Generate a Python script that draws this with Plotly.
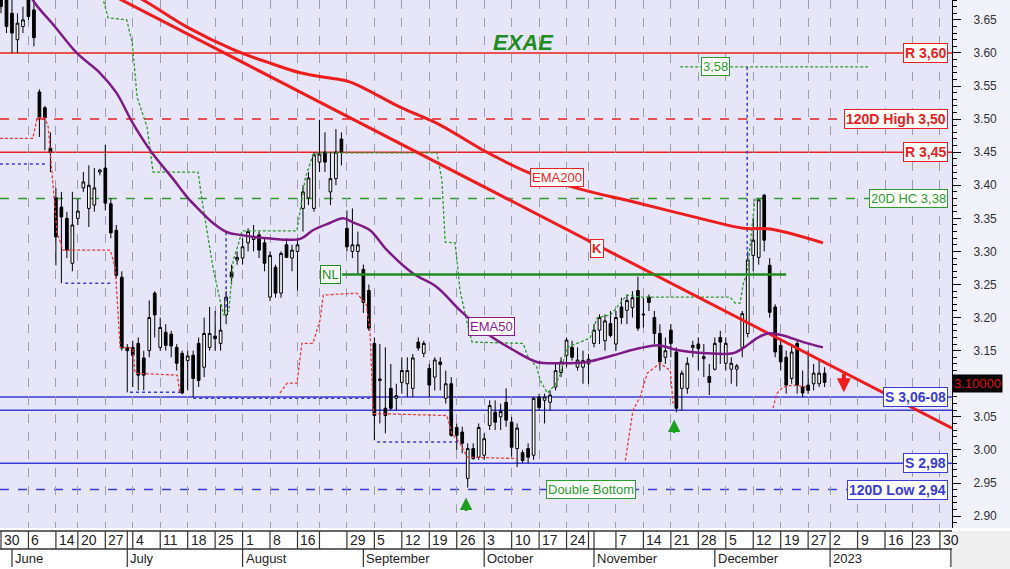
import pandas as pd
import plotly.graph_objects as go

# ---------------- calendar (trading days) ----------------
holidays = ['2022-06-13', '2022-08-15', '2022-10-28', '2022-12-26']
days = [d.strftime('%Y-%m-%d') for d in pd.bdate_range('2022-05-30', '2023-02-01')
        if d.strftime('%Y-%m-%d') not in holidays]
pos = {d: i for i, d in enumerate(days)}

# ---------------- OHLC data (May 30 - Dec 30, 2022) ----------------
opens = [3.69, 3.68, 3.66, 3.62, 3.64, 3.70, 3.665, 3.541, 3.517, 3.456,
         3.381, 3.367, 3.350, 3.282, 3.350, 3.396, 3.365, 3.370, 3.420, 3.426,
         3.372, 3.332, 3.261, 3.155, 3.155, 3.161, 3.139, 3.150, 3.237, 3.155,
         3.178, 3.175, 3.155, 3.146, 3.135, 3.143, 3.161, 3.125, 3.155, 3.172,
         3.161, 3.204, 3.269, 3.287, 3.290, 3.313, 3.318, 3.325, 3.313, 3.231,
         3.276, 3.237, 3.310, 3.290, 3.300, 3.365, 3.381, 3.365, 3.435, 3.450,
         3.390, 3.410, 3.470, 3.335, 3.300, 3.300, 3.273, 3.241, 3.161, 3.105,
         3.063, 3.093, 3.078, 3.102, 3.100, 3.093, 3.163, 3.146, 3.123, 3.110,
         3.133, 3.078, 3.100, 3.034, 3.027, 2.957, 3.002, 2.989, 2.992, 3.037,
         3.057, 3.050, 3.072, 3.042, 3.002, 2.996, 3.002, 2.992, 3.080, 3.075,
         3.072, 3.095, 3.117, 3.143, 3.155, 3.125, 3.125, 3.130, 3.161, 3.181,
         3.165, 3.191, 3.160, 3.216, 3.211, 3.215, 3.241, 3.204, 3.231, 3.200,
         3.176, 3.140, 3.181, 3.148, 3.093, 3.093, 3.155, 3.160, 3.138, 3.111,
         3.122, 3.170, 3.131, 3.122, 3.122, 3.155, 3.176, 3.294, 3.291, 3.385,
         3.279, 3.216, 3.158, 3.140, 3.108, 3.161, 3.095, 3.098, 3.100, 3.100,
         3.116]
highs = [3.71, 3.70, 3.68, 3.66, 3.67, 3.72, 3.68, 3.545, 3.52, 3.48,
         3.396, 3.39, 3.36, 3.39, 3.38, 3.42, 3.43, 3.426, 3.425, 3.461,
         3.38, 3.34, 3.27, 3.16, 3.165, 3.17, 3.15, 3.226, 3.24, 3.20,
         3.19, 3.18, 3.16, 3.15, 3.15, 3.15, 3.17, 3.20, 3.216, 3.21,
         3.22, 3.24, 3.28, 3.30, 3.32, 3.335, 3.34, 3.33, 3.32, 3.30,
         3.28, 3.30, 3.32, 3.31, 3.32, 3.40, 3.42, 3.45, 3.499, 3.48,
         3.45, 3.485, 3.48, 3.362, 3.365, 3.33, 3.28, 3.25, 3.17, 3.16,
         3.155, 3.13, 3.10, 3.14, 3.14, 3.145, 3.17, 3.165, 3.13, 3.14,
         3.14, 3.12, 3.11, 3.04, 3.035, 3.01, 3.01, 3.04, 3.025, 3.075,
         3.075, 3.07, 3.093, 3.05, 3.04, 3.00, 3.01, 3.08, 3.085, 3.085,
         3.09, 3.13, 3.14, 3.17, 3.165, 3.155, 3.15, 3.145, 3.19, 3.205,
         3.205, 3.21, 3.21, 3.23, 3.235, 3.24, 3.262, 3.23, 3.235, 3.21,
         3.19, 3.17, 3.19, 3.155, 3.12, 3.14, 3.165, 3.17, 3.16, 3.13,
         3.17, 3.18, 3.17, 3.14, 3.13, 3.21, 3.30, 3.35, 3.38, 3.387,
         3.29, 3.22, 3.165, 3.15, 3.16, 3.165, 3.12, 3.15, 3.13, 3.135,
         3.125]
lows = [3.66, 3.63, 3.60, 3.60, 3.63, 3.65, 3.61, 3.473, 3.453, 3.42,
        3.279, 3.252, 3.29, 3.27, 3.34, 3.39, 3.337, 3.36, 3.415, 3.362,
        3.32, 3.26, 3.15, 3.087, 3.095, 3.09, 3.09, 3.14, 3.17, 3.15,
        3.15, 3.14, 3.12, 3.084, 3.09, 3.08, 3.095, 3.11, 3.15, 3.15,
        3.15, 3.19, 3.25, 3.28, 3.28, 3.30, 3.30, 3.29, 3.27, 3.225,
        3.23, 3.23, 3.29, 3.27, 3.241, 3.33, 3.37, 3.36, 3.42, 3.42,
        3.37, 3.40, 3.43, 3.30, 3.29, 3.265, 3.207, 3.18, 3.015, 3.04,
        3.025, 3.06, 3.06, 3.085, 3.08, 3.08, 3.15, 3.14, 3.08, 3.09,
        3.09, 3.07, 3.02, 3.00, 2.995, 2.943, 2.985, 2.985, 2.985, 3.03,
        3.03, 3.03, 3.035, 2.99, 2.974, 2.98, 2.98, 2.985, 3.06, 3.04,
        3.06, 3.09, 3.11, 3.125, 3.135, 3.12, 3.10, 3.10, 3.155, 3.16,
        3.15, 3.17, 3.15, 3.19, 3.19, 3.20, 3.18, 3.185, 3.21, 3.16,
        3.12, 3.13, 3.14, 3.057, 3.06, 3.085, 3.14, 3.12, 3.11, 3.083,
        3.12, 3.13, 3.12, 3.10, 3.096, 3.14, 3.17, 3.27, 3.28, 3.30,
        3.20, 3.14, 3.12, 3.085, 3.10, 3.085, 3.08, 3.085, 3.09, 3.095,
        3.095]
closes = [3.67, 3.64, 3.63, 3.645, 3.65, 3.655, 3.623, 3.502, 3.502, 3.45,
          3.322, 3.352, 3.302, 3.340, 3.361, 3.405, 3.400, 3.396, 3.423, 3.373,
          3.328, 3.264, 3.154, 3.150, 3.143, 3.113, 3.113, 3.200, 3.204, 3.185,
          3.158, 3.157, 3.131, 3.086, 3.142, 3.108, 3.105, 3.176, 3.176, 3.168,
          3.181, 3.231, 3.261, 3.291, 3.307, 3.330, 3.322, 3.302, 3.282, 3.294,
          3.237, 3.297, 3.291, 3.302, 3.310, 3.390, 3.411, 3.446, 3.447, 3.435,
          3.410, 3.450, 3.450, 3.307, 3.310, 3.310, 3.223, 3.184, 3.052, 3.107,
          3.052, 3.063, 3.082, 3.120, 3.120, 3.139, 3.154, 3.161, 3.098, 3.136,
          3.129, 3.100, 3.022, 3.022, 3.010, 3.002, 2.987, 3.034, 3.017, 3.067,
          3.042, 3.058, 3.045, 3.004, 3.033, 2.984, 2.989, 3.078, 3.064, 3.080,
          3.083, 3.120, 3.133, 3.166, 3.140, 3.136, 3.135, 3.137, 3.181, 3.200,
          3.195, 3.173, 3.200, 3.200, 3.226, 3.230, 3.184, 3.205, 3.223, 3.176,
          3.133, 3.150, 3.161, 3.063, 3.116, 3.131, 3.158, 3.153, 3.141, 3.102,
          3.161, 3.163, 3.161, 3.131, 3.127, 3.206, 3.287, 3.317, 3.378, 3.317,
          3.208, 3.148, 3.133, 3.098, 3.148, 3.098, 3.086, 3.090, 3.116, 3.116,
          3.102]
candle_x = list(range(len(opens)))

# ---------------- indicators (trading-day index, price) ----------------
ema50_x = [4.9, 5.8, 9.8, 13.8, 18.0, 21.0, 24.0, 27.5, 31.3, 33.9, 36.2, 38.6, 41.2, 43.5,
           48.5, 54.5, 56.8, 59.9, 62.3, 64.1, 67.2, 70.3, 75.0, 79.4, 83.6, 88.5, 93.3,
           97.6, 101.8, 106.7, 111.5, 116.4, 120.0, 123.1, 128.6, 133.3, 135.2, 137.7,
           139.7, 142.4, 146.1, 149.7]
ema50_y = [3.70, 3.68, 3.64, 3.60, 3.57, 3.54, 3.494, 3.449, 3.41, 3.382, 3.362, 3.343, 3.329,
           3.325, 3.320, 3.319, 3.332, 3.343, 3.350, 3.344, 3.332, 3.302, 3.267, 3.246, 3.211,
           3.176, 3.151, 3.133, 3.131, 3.133, 3.143, 3.154, 3.158, 3.151, 3.146, 3.146, 3.154,
           3.169, 3.176, 3.173, 3.163, 3.155]
ema200_x = [21.7, 25.9, 33.9, 42.3, 48.5, 54.5, 59.9, 63.6, 72.7, 80.0, 87.8, 96.4, 106.0,
            115.1, 127.3, 135.2, 140.1, 149.7]
ema200_y = [3.698, 3.680, 3.639, 3.605, 3.586, 3.570, 3.562, 3.556, 3.518, 3.491, 3.453,
            3.418, 3.393, 3.375, 3.350, 3.335, 3.334, 3.313]
trend_k_x = [18.0, 173.2]
trend_k_y = [3.697, 3.033]

red_stop_x = [-0.2, 5.8, 6.6, 8.0, 8.6, 8.9, 9.3, 9.5, 10.2, 11.3, 19.9, 20.8, 21.1, 21.7,
              24.0, 24.4, 32.1, 32.6, None,
              50.8, 52.1, 53.9, 54.8, 56.8, 58.1, 58.7, 64.8, 66.5, 67.2, 67.8, 81.2, 82.1,
              83.6, 84.9, 94.0, None,
              113.7, 115.1, 116.4, 117.7, 120.0, 121.9, 122.4, None,
              140.6, 141.3, 142.4, 144.3, 146.6]
red_stop_y = [3.471, 3.471, 3.502, 3.502, 3.488, 3.456, 3.418, 3.388, 3.328, 3.302, 3.302,
              3.276, 3.237, 3.155, 3.154, 3.116, 3.113, 3.086, None,
              3.086, 3.101, 3.101, 3.161, 3.161, 3.196, 3.234, 3.237, 3.22, 3.181, 3.055,
              3.052, 3.025, 3.010, 2.989, 2.987, None,
              2.984, 3.06, 3.08, 3.116, 3.131, 3.12, 3.07, None,
              3.063, 3.085, 3.095, 3.098, 3.095]
green_stop_x = [18.0, 19.5, 22.9, 23.9, 24.8, 26.6, 27.7, 35.9, 36.6, 38.6, 39.9, 40.6, 41.5,
                42.3, 43.2, 43.9, 53.9, 54.8, 55.4, 56.8, 58.1, 79.4, 80.3, 80.9, 82.7, 83.1,
                83.6, 84.9, 85.8, 95.1, 96.0, 97.6, 98.2, 99.5, 100.9, 101.8, 103.1, 107.3,
                108.6, 111.0, 114.0, 116.4, 132.8, 133.7, 134.6, 135.2, 135.9, 137.3, 138.5]
green_stop_y = [3.70, 3.653, 3.65, 3.615, 3.533, 3.488, 3.42, 3.42, 3.378, 3.276, 3.226, 3.204,
                3.21, 3.287, 3.31, 3.331, 3.331, 3.382, 3.41, 3.446, 3.449, 3.449, 3.408, 3.314,
                3.313, 3.282, 3.241, 3.192, 3.163, 3.161, 3.14, 3.125, 3.105, 3.086, 3.098,
                3.113, 3.155, 3.169, 3.20, 3.204, 3.234, 3.231, 3.231, 3.222, 3.222, 3.252,
                3.267, 3.378, 3.38]
blue_dot_x = [-0.2, 8.0, None, 11.7, 20.4, None, 23.5, 32.6, None, 35.0, 67.2, None, 68.5, 83.6,
              None, 41.0, 41.0, None, 135.9, 135.9]
blue_dot_y = [3.432, 3.432, None, 3.252, 3.252, None, 3.087, 3.087, None, 3.078, 3.078, None,
              3.012, 3.012, None, 3.329, 3.21, None, 3.579, 3.287]

# horizontal levels
level_prices = [3.60, 3.50, 3.45, 3.38, 3.08, 3.06, 2.98, 2.94]
level_colors = ['#E8201E', '#E8201E', '#E8201E', '#2E9A2E', '#3A3AD6', '#3A3AD6', '#3A3AD6', '#3A3AD6']
level_dash = ['solid', 'dash', 'solid', 'dash', 'solid', 'solid', 'solid', 'dash']
level_labels = ['R 3,60', '120D High 3,50', 'R 3,45', '20D HC 3,38', 'S 3,06-08', None, 'S 2,98',
                '120D Low 2,94']
level_bold = [True, True, True, False, True, False, True, True]

neckline = 3.265
neck_x = [62.1, 143.0]
high358 = 3.579
high358_x = [123.7, 157.9]

# axis ticks
price_ticks = [2.90, 2.95, 3.00, 3.05, 3.15, 3.20, 3.25, 3.30, 3.35, 3.40, 3.45, 3.50, 3.55,
               3.60, 3.65]
week_ticks = ['2022-05-30', '2022-06-06', '2022-06-14', '2022-06-20', '2022-06-27', '2022-07-04',
              '2022-07-11', '2022-07-18', '2022-07-25', '2022-08-01', '2022-08-08', '2022-08-16',
              '2022-08-22', '2022-08-29', '2022-09-05', '2022-09-12', '2022-09-19', '2022-09-26',
              '2022-10-03', '2022-10-10', '2022-10-17', '2022-10-24', '2022-10-31', '2022-11-07',
              '2022-11-14', '2022-11-21', '2022-11-28', '2022-12-05', '2022-12-12', '2022-12-19',
              '2022-12-27', '2023-01-02', '2023-01-09', '2023-01-16', '2023-01-23', '2023-01-30']
week_labels = ['30', '6', '14', '20', '27', '4', '11', '18', '25', '1', '8', '16', '', '29', '5',
               '12', '19', '26', '3', '10', '17', '24', '', '7', '14', '21', '28', '5', '12', '19',
               '27', '2', '9', '16', '23', '30']
extra_date_seps = ['2022-07-01', '2022-11-01']
month_starts = ['2022-06-01', '2022-07-01', '2022-08-01', '2022-09-01', '2022-10-03', '2022-11-01',
                '2022-12-01', '2023-01-02', '2023-02-01']
month_labels = ['June', 'July', 'August', 'September', 'October', 'November', 'December', '2023', '']

last_price = 3.10

# ---------------- figure ----------------
W, H = 1010, 569
ML, MR, MT, MB = 0, 58, 0, 41
PH = H - MT - MB


def ypap(px):
    return (PH - px) / PH


FONT = 'Liberation Sans, Arial, sans-serif'
STOP_DASH = '3px,2px'
fig = go.Figure()

fig.add_trace(go.Scatter(x=red_stop_x, y=red_stop_y, mode='lines',
                         line=dict(color='#E83A3A', width=1.3, dash=STOP_DASH), hoverinfo='skip'))
fig.add_trace(go.Scatter(x=green_stop_x, y=green_stop_y, mode='lines',
                         line=dict(color='#2E9A2E', width=1.3, dash=STOP_DASH), hoverinfo='skip'))
fig.add_trace(go.Scatter(x=blue_dot_x, y=blue_dot_y, mode='lines',
                         line=dict(color='#3A3AD6', width=1.5, dash='dot'), hoverinfo='skip'))

fig.add_trace(go.Candlestick(
    x=candle_x, open=opens, high=highs, low=lows, close=closes,
    increasing=dict(line=dict(color='black', width=1), fillcolor='white'),
    decreasing=dict(line=dict(color='black', width=1), fillcolor='black'),
    whiskerwidth=0, hoverinfo='skip'))

fig.add_trace(go.Scatter(x=ema200_x, y=ema200_y, mode='lines', line_shape='spline',
                         line=dict(color='#EE1C1C', width=3), hoverinfo='skip'))
fig.add_trace(go.Scatter(x=trend_k_x, y=trend_k_y, mode='lines',
                         line=dict(color='#EE1C1C', width=3), hoverinfo='skip'))
fig.add_trace(go.Scatter(x=ema50_x, y=ema50_y, mode='lines', line_shape='spline',
                         line=dict(color='#7E1A86', width=2.5), hoverinfo='skip'))
fig.add_trace(go.Scatter(x=neck_x, y=[neckline, neckline], mode='lines',
                         line=dict(color='#1E8C1E', width=2.5), hoverinfo='skip'))
fig.add_trace(go.Scatter(x=high358_x, y=[high358, high358], mode='lines',
                         line=dict(color='#2E9A2E', width=1.3, dash=STOP_DASH), hoverinfo='skip'))

shapes = []
anns = []
for p, c, d, lab, b in zip(level_prices, level_colors, level_dash, level_labels, level_bold):
    shapes.append(dict(type='line', xref='paper', yref='y', x0=0, x1=1, y0=p, y1=p,
                       line=dict(color=c, width=1.5, dash=d), layer='below'))
    if lab:
        anns.append(dict(xref='paper', yref='y', x=0.996, y=p, xanchor='right', yanchor='middle',
                         text=('<b>%s</b>' % lab) if b else lab, showarrow=False,
                         font=dict(family=FONT, size=14 if b else 13, color=c), bgcolor='white',
                         bordercolor=c, borderwidth=1, borderpad=1))


def box(x, y, text, color, bold=False):
    anns.append(dict(xref='x', yref='y', x=x, y=y, text=('<b>%s</b>' % text) if bold else text,
                     showarrow=False, font=dict(family=FONT, size=13, color=color),
                     bgcolor='white', bordercolor=color, borderwidth=1, borderpad=1))


box(101.3, 3.412, 'EMA200', '#E8201E')
box(108.6, 3.305, 'K', '#E8201E', bold=True)
box(89.3, 3.187, 'EMA50', '#8A1A8E')
box(60.1, neckline, 'NL', '#1E8C1E')
box(107.5, 2.94, 'Double Bottom', '#2E9A2E')
box(130.2, high358, '3,58', '#2E9A2E')

# title
anns.append(dict(xref='paper', yref='paper', x=523 / 952, y=ypap(28), text='<b><i>EXAE</i></b>',
                 showarrow=False, font=dict(family=FONT, size=22, color='#1F8C1F')))

# arrows
for ax_, ay_ in [(84.7, 2.928), (122.6, 3.046)]:
    anns.append(dict(xref='x', yref='y', x=ax_, y=ay_, ax=0, ay=15, text='', showarrow=True,
                     arrowhead=2, arrowsize=1, arrowwidth=2.5, arrowcolor='#1E9E1E'))
anns.append(dict(xref='x', yref='y', x=153.5, y=3.087, ax=0, ay=-20, text='', showarrow=True,
                 arrowhead=2, arrowsize=0.7, arrowwidth=4, arrowcolor='#EE1C1C'))

# last price tag
anns.append(dict(xref='paper', yref='y', x=1.0, y=last_price, xanchor='left', yanchor='middle',
                 text='3.10000', showarrow=False, font=dict(family=FONT, size=13, color='#E01010'),
                 bgcolor='black', borderpad=1))

# ---------------- bottom date axis ----------------
y_top, y_mid, y_bot = ypap(531), ypap(549), ypap(567)
shapes.append(dict(type='rect', xref='paper', yref='paper', x0=0, x1=1.07, y0=y_bot - 0.01, y1=0,
                   fillcolor='white', line=dict(width=0), layer='below'))
shapes.append(dict(type='rect', xref='paper', yref='paper', x0=1.0, x1=1.07, y0=y_bot - 0.01, y1=y_top,
                   fillcolor='#EFEFEF', line=dict(width=0), layer='below'))
for yy in (y_top, y_mid):
    shapes.append(dict(type='line', xref='paper', yref='paper', x0=0, x1=1.0, y0=yy, y1=yy,
                       line=dict(color='#333333', width=1.5)))
for d, lab in zip(week_ticks, week_labels):
    xi = pos[d]
    shapes.append(dict(type='line', xref='x', yref='paper', x0=xi, x1=xi, y0=y_top, y1=y_mid,
                       line=dict(color='#333333', width=1.2)))
    if lab:
        anns.append(dict(xref='x', yref='paper', x=xi, y=(y_top + y_mid) / 2, xanchor='left',
                         yanchor='middle', xshift=1, text=lab, showarrow=False,
                         font=dict(family=FONT, size=14, color='#222222')))
for d in extra_date_seps:
    xi = pos[d]
    shapes.append(dict(type='line', xref='x', yref='paper', x0=xi, x1=xi, y0=y_top, y1=y_mid,
                       line=dict(color='#333333', width=1.2)))
for d, lab in zip(month_starts, month_labels):
    xi = pos[d]
    shapes.append(dict(type='line', xref='x', yref='paper', x0=xi, x1=xi, y0=y_mid, y1=y_bot,
                       line=dict(color='#333333', width=1.2)))
    if lab:
        anns.append(dict(xref='x', yref='paper', x=xi, y=(y_mid + y_bot) / 2, xanchor='left',
                         yanchor='middle', xshift=1, text=lab, showarrow=False,
                         font=dict(family=FONT, size=13, color='#222222')))

fig.update_layout(
    width=W, height=H, margin=dict(l=ML, r=MR, t=MT, b=MB),
    paper_bgcolor='#F1F1FA', plot_bgcolor='#E6E6F8',
    showlegend=False, shapes=shapes, annotations=anns,
    font=dict(family=FONT), hovermode=False,
    xaxis=dict(range=[-0.18, 173.2], tickmode='array', tickvals=[pos[d] for d in week_ticks],
               showticklabels=False, ticks='', showgrid=True, gridcolor='#9C9CAE', gridwidth=1,
               griddash='dash', zeroline=False, rangeslider=dict(visible=False), fixedrange=True),
    yaxis=dict(range=[2.882, 3.68], side='right', tickmode='array', tickvals=price_ticks,
               tickformat='.2f', ticks='outside', ticklen=8, tickcolor='black', showline=True,
               linecolor='black', linewidth=1, showgrid=False, zeroline=False, fixedrange=True,
               ticklabelstandoff=10, tickfont=dict(family=FONT, size=12, color='#333333'),
               minor=dict(ticks='outside', ticklen=4, tick0=2.90, dtick=0.01, tickcolor='black',
                          showgrid=False)),
)

fig.write_html('out.html', config={'displayModeBar': False, 'staticPlot': True},
               post_script="document.body.style.margin='0px';document.body.style.overflow='hidden';")
